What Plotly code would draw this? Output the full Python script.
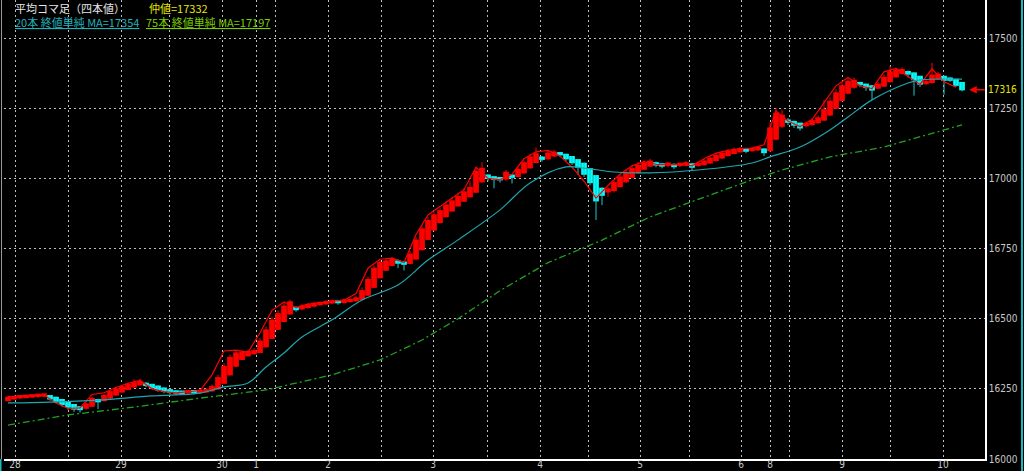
import plotly.graph_objects as go

# ---------------- data ----------------
ha_open = [
    16208, 16214, 16218, 16219, 16221, 16223, 16224, 16226, 16220, 16212,
    16203, 16194, 16186, 16181, 16188, 16212, 16208, 16217, 16228, 16239,
    16248, 16257, 16264, 16270, 16266, 16260, 16253, 16247, 16242, 16238,
    16236, 16238, 16237, 16239, 16243, 16250, 16270, 16300, 16331, 16355,
    16368, 16375, 16380, 16400, 16430, 16462, 16490, 16517, 16538, 16535,
    16540, 16545, 16550, 16553, 16556, 16560, 16558, 16561, 16564, 16569,
    16584, 16612, 16646, 16673, 16690, 16701, 16700, 16697, 16713, 16746,
    16783, 16816, 16843, 16864, 16884, 16902, 16919, 16935, 16951, 16988,
    17012, 17006, 17001, 16998, 17010, 17007, 17020, 17038, 17057, 17072,
    17070, 17080, 17087, 17086, 17078, 17067, 17054, 17035, 17010, 16965,
    16952, 16957, 16971, 16988, 17004, 17020, 17033, 17044, 17053, 17050,
    17047, 17050, 17046, 17048, 17052, 17046, 17049, 17055, 17064, 17073,
    17082, 17089, 17095, 17100, 17099, 17102, 17105, 17099, 17140, 17186,
    17206, 17203, 17197, 17188, 17192, 17199, 17208, 17226, 17250, 17278,
    17304, 17325, 17338, 17336, 17330, 17322, 17329, 17345, 17362, 17374,
    17381, 17376, 17364, 17338, 17342, 17355, 17364, 17357, 17353, 17342,
]
ha_close = [
    16220, 16222, 16221, 16224, 16225, 16226, 16228, 16214, 16204, 16194,
    16185, 16178, 16176, 16196, 16216, 16204, 16226, 16240, 16250, 16258,
    16266, 16272, 16276, 16262, 16254, 16246, 16241, 16237, 16235, 16234,
    16240, 16236, 16242, 16246, 16258, 16290, 16330, 16362, 16378, 16381,
    16383, 16386, 16420, 16460, 16495, 16518, 16545, 16560, 16532, 16545,
    16550, 16555, 16556, 16560, 16563, 16557, 16565, 16568, 16574, 16600,
    16640, 16680, 16700, 16706, 16712, 16698, 16694, 16730, 16780, 16820,
    16850, 16870, 16885, 16905, 16920, 16936, 16952, 16968, 17025, 17036,
    17000, 16996, 16995, 17022, 17004, 17032, 17056, 17076, 17088, 17068,
    17090, 17094, 17084, 17070, 17056, 17040, 17015, 16985, 16920, 16940,
    16962, 16985, 17005, 17020, 17035, 17046, 17055, 17062, 17048, 17044,
    17052, 17042, 17050, 17055, 17040, 17052, 17062, 17072, 17082, 17090,
    17096, 17101, 17104, 17097, 17105, 17108, 17092, 17180, 17232, 17225,
    17200, 17190, 17180, 17195, 17206, 17216, 17245, 17275, 17305, 17330,
    17346, 17350, 17334, 17324, 17315, 17336, 17360, 17380, 17386, 17388,
    17372, 17352, 17336, 17346, 17368, 17372, 17350, 17350, 17332, 17316,
]
ha_high = [
    16224, 16226, 16225, 16227, 16229, 16230, 16231, 16228, 16222, 16213,
    16205, 16196, 16188, 16205, 16222, 16214, 16232, 16246, 16256, 16264,
    16272, 16284, 16286, 16274, 16268, 16262, 16255, 16249, 16244, 16240,
    16246, 16242, 16248, 16252, 16266, 16300, 16342, 16372, 16386, 16388,
    16390, 16395, 16432, 16472, 16508, 16530, 16556, 16568, 16545, 16552,
    16556, 16560, 16562, 16566, 16568, 16566, 16572, 16575, 16582, 16612,
    16650, 16690, 16712, 16716, 16720, 16712, 16706, 16742, 16792, 16832,
    16862, 16880, 16896, 16918, 16934, 16950, 16966, 16990, 17040, 17058,
    17015, 17008, 17004, 17030, 17014, 17040, 17064, 17088, 17110, 17080,
    17100, 17102, 17090, 17088, 17080, 17070, 17056, 17037, 17012, 16968,
    16970, 16995, 17015, 17032, 17045, 17058, 17064, 17070, 17060, 17054,
    17058, 17054, 17056, 17062, 17054, 17060, 17070, 17080, 17090, 17098,
    17104, 17110, 17112, 17106, 17112, 17114, 17108, 17200, 17250, 17245,
    17215, 17206, 17198, 17202, 17214, 17225, 17280, 17290, 17318, 17345,
    17356, 17360, 17342, 17338, 17332, 17344, 17372, 17400, 17395, 17396,
    17384, 17378, 17366, 17352, 17412, 17380, 17366, 17360, 17355, 17344,
]
ha_low = [
    16205, 16212, 16214, 16216, 16218, 16218, 16220, 16208, 16198, 16186,
    16176, 16168, 16165, 16176, 16186, 16178, 16205, 16214, 16226, 16236,
    16245, 16254, 16262, 16256, 16248, 16240, 16234, 16230, 16228, 16229,
    16232, 16230, 16233, 16236, 16240, 16247, 16268, 16298, 16328, 16352,
    16365, 16372, 16378, 16398, 16428, 16460, 16488, 16515, 16525, 16530,
    16536, 16540, 16546, 16550, 16552, 16550, 16554, 16558, 16560, 16566,
    16582, 16610, 16644, 16670, 16686, 16680, 16672, 16694, 16710, 16744,
    16780, 16814, 16840, 16862, 16882, 16900, 16916, 16932, 16949, 16985,
    16990, 16965, 16985, 16990, 16982, 17004, 17016, 17034, 17054, 17060,
    17066, 17076, 17076, 17062, 17048, 17012, 17005, 16975, 16852, 16905,
    16935, 16950, 16968, 16985, 17000, 17016, 17030, 17040, 17040, 17036,
    17040, 17034, 17040, 17044, 17030, 17042, 17046, 17052, 17060, 17070,
    17078, 17086, 17092, 17090, 17095, 17098, 17080, 17095, 17136, 17180,
    17190, 17180, 17170, 17182, 17188, 17195, 17205, 17222, 17247, 17275,
    17300, 17320, 17325, 17312, 17280, 17318, 17326, 17342, 17360, 17370,
    17360, 17295, 17326, 17332, 17338, 17350, 17298, 17344, 17326, 17310,
]

# thin red price line, every second bar
price_close = [
    16222, 16224, 16226, 16228, 16200, 16180, 16182, 16230, 16236, 16255,
    16270, 16280, 16250, 16240, 16236, 16240, 16244, 16300, 16385, 16388,
    16380, 16450, 16530, 16560, 16540, 16552, 16558, 16562, 16566, 16590,
    16680, 16712, 16716, 16700, 16800, 16870, 16900, 16930, 16960, 17040,
    17000, 16995, 17015, 17070, 17095, 17100, 17080, 17040, 16990, 16930,
    16975, 17015, 17045, 17060, 17050, 17048, 17050, 17045, 17070, 17090,
    17100, 17106, 17108, 17120, 17240, 17205, 17185, 17210, 17270, 17330,
    17360, 17330, 17320, 17380, 17392, 17365, 17335, 17390, 17345, 17325,
]

ma20_idx = [0, 7, 15, 24, 32, 36, 40, 43, 46, 49, 54, 59, 65, 70, 75, 82, 87,
            93, 96, 101, 107, 115, 124, 127, 132, 137, 140, 144, 150, 152, 159]
ma20_val = [16200, 16203, 16210, 16225, 16235, 16257, 16271, 16328, 16378, 16435,
            16496, 16567, 16620, 16709, 16781, 16888, 16984, 17041, 17037, 17023,
            17020, 17030, 17055, 17077, 17112, 17173, 17219, 17280, 17340, 17351,
            17354]

ma75_idx = [0, 10, 21, 32, 43, 49, 54, 62, 69, 75, 82, 90, 99, 107, 124, 129,
            137, 146, 154, 159]
ma75_val = [16121, 16157, 16185, 16217, 16246, 16275, 16300, 16353, 16424, 16500,
            16600, 16700, 16780, 16863, 16995, 17030, 17077, 17112, 17162, 17191]

# x-axis ticks (bar index positions) and labels
tick_pos = [1.17, 10.0, 18.83, 26.83, 35.67, 41.33, 44.5, 53.33, 62.17, 70.83,
            79.83, 88.67, 96.67, 105.33, 113.5, 122.17, 127.0, 130.17, 139.0,
            147.0, 155.83]
tick_text = ["28", "", "29", "", "30", "1", "", "2", "", "3",
             "", "4", "", "5", "", "6", "8", "", "9", "", "10"]
y_ticks = [16000, 16250, 16500, 16750, 17000, 17250, 17500]

last_price = 17316
mid_price = 17332
ma20_last = 17354
ma75_last = 17197

# ---------------- build figure ----------------
RED = "#ff0000"
CYAN = "#00ffff"
n = len(ha_close)
idx = list(range(n))

body_base, body_h, body_col = [], [], []
wx_r, wy_r, wx_c, wy_c = [], [], [], []
for i in idx:
    o, c, h, l = ha_open[i], ha_close[i], ha_high[i], ha_low[i]
    lo, hi = min(o, c), max(o, c)
    body_base.append(lo - 2)
    body_h.append(max(hi - lo + 4, 12))
    up = c >= o
    body_col.append(RED if up else CYAN)
    if up:
        wx_r += [i, i, None]; wy_r += [l, h, None]
    else:
        wx_c += [i, i, None]; wy_c += [l, h, None]

fig = go.Figure()
fig.add_trace(go.Scatter(x=ma75_idx, y=ma75_val, mode="lines",
                         line=dict(color="#22a022", width=1.3, dash="7px,3px,2px,3px"),
                         hoverinfo="skip"))
fig.add_trace(go.Scatter(x=wx_r, y=wy_r, mode="lines", line=dict(color=RED, width=1),
                         hoverinfo="skip"))
fig.add_trace(go.Scatter(x=wx_c, y=wy_c, mode="lines", line=dict(color="#20c8c8", width=1),
                         hoverinfo="skip"))
fig.add_trace(go.Bar(x=idx, y=body_h, base=body_base, width=0.95,
                     marker=dict(color=body_col, line=dict(width=0)), hoverinfo="skip"))
fig.add_trace(go.Scatter(x=list(range(0, n, 2)), y=price_close, mode="lines",
                         line=dict(color=RED, width=1.2), hoverinfo="skip"))
fig.add_trace(go.Scatter(x=ma20_idx, y=ma20_val, mode="lines", line_shape="spline",
                         line=dict(color="#1fa5ad", width=1.2), hoverinfo="skip"))

grid = dict(showgrid=True, gridcolor="#bdbdbd", gridwidth=1, griddash="2px,3px")
tickfont = dict(family="DejaVu Sans Condensed, Liberation Sans Narrow, sans-serif",
                size=10, color="#c8c8c8")

fig.update_layout(
    width=1024, height=471,
    margin=dict(l=4, r=39, t=0, b=12),
    paper_bgcolor="black", plot_bgcolor="black",
    showlegend=False, barmode="overlay",
    xaxis=dict(range=[-0.67, 162.83], tickmode="array", tickvals=tick_pos,
               ticktext=tick_text, tickfont=tickfont, ticks="", zeroline=False,
               showline=True, linecolor="white", linewidth=1.5, automargin=False,
               ticklabelstandoff=-5, **grid),
    yaxis=dict(range=[16000, 17636], side="right", tickmode="array", tickvals=y_ticks,
               ticktext=[str(v) for v in y_ticks], tickfont=tickfont, ticks="",
               zeroline=False, showline=True, linecolor="white", linewidth=1.5,
               automargin=False, **grid),
)

def px_x(p):
    return (p - 4) / 981.0

def px_y(p):
    return (459 - p) / 459.0

jp = "Noto Sans CJK JP, sans-serif"
ann = [
    dict(text="平均コマ足（四本値）", x=px_x(14), y=px_y(8), color="#e6e6e6"),
    dict(text=f"仲値={mid_price}", x=px_x(148), y=px_y(8), color="#e6e600"),
    dict(text=f"<span style='text-decoration:underline'>20本 終値単純 MA={ma20_last}</span>",
         x=px_x(14), y=px_y(22), color="#20b0bc"),
    dict(text=f"<span style='text-decoration:underline'>75本 終値単純 MA={ma75_last}</span>",
         x=px_x(145), y=px_y(22), color="#7ccc00"),
]
for a in ann:
    fig.add_annotation(text=a["text"], x=a["x"], y=a["y"], xref="paper", yref="paper",
                       xanchor="left", yanchor="middle", showarrow=False,
                       borderpad=0, font=dict(family=jp, size=11, color=a["color"]))

# last price marker
fig.add_annotation(x=n + 0.2, y=last_price, xref="x", yref="y", text="",
                   showarrow=True, ax=17, ay=0, arrowhead=2, arrowsize=1,
                   arrowwidth=1.5, arrowcolor=RED)
fig.add_annotation(x=px_x(986), y=last_price, xref="paper", yref="y",
                   text=str(last_price), showarrow=False, xanchor="left",
                   yanchor="middle", font=dict(family=tickfont["family"], size=10,
                                               color="#e6e600"))

# window borders
fig.add_shape(type="line", xref="paper", yref="paper", x0=px_x(1022), x1=px_x(1022),
              y0=px_y(471), y1=px_y(0), line=dict(color="#1ab8c0", width=2))
fig.add_shape(type="line", xref="paper", yref="paper", x0=px_x(1.5), x1=px_x(1.5),
              y0=px_y(459), y1=px_y(0), line=dict(color="#9a9a9a", width=1))
fig.add_shape(type="line", xref="paper", yref="paper", x0=px_x(0.5), x1=px_x(0.5),
              y0=px_y(471), y1=px_y(459), line=dict(color="#1ab8c0", width=2))

fig.write_html("out.html", config={"displayModeBar": False},
               post_script="document.body.style.margin='0';document.body.style.overflow='hidden';")
